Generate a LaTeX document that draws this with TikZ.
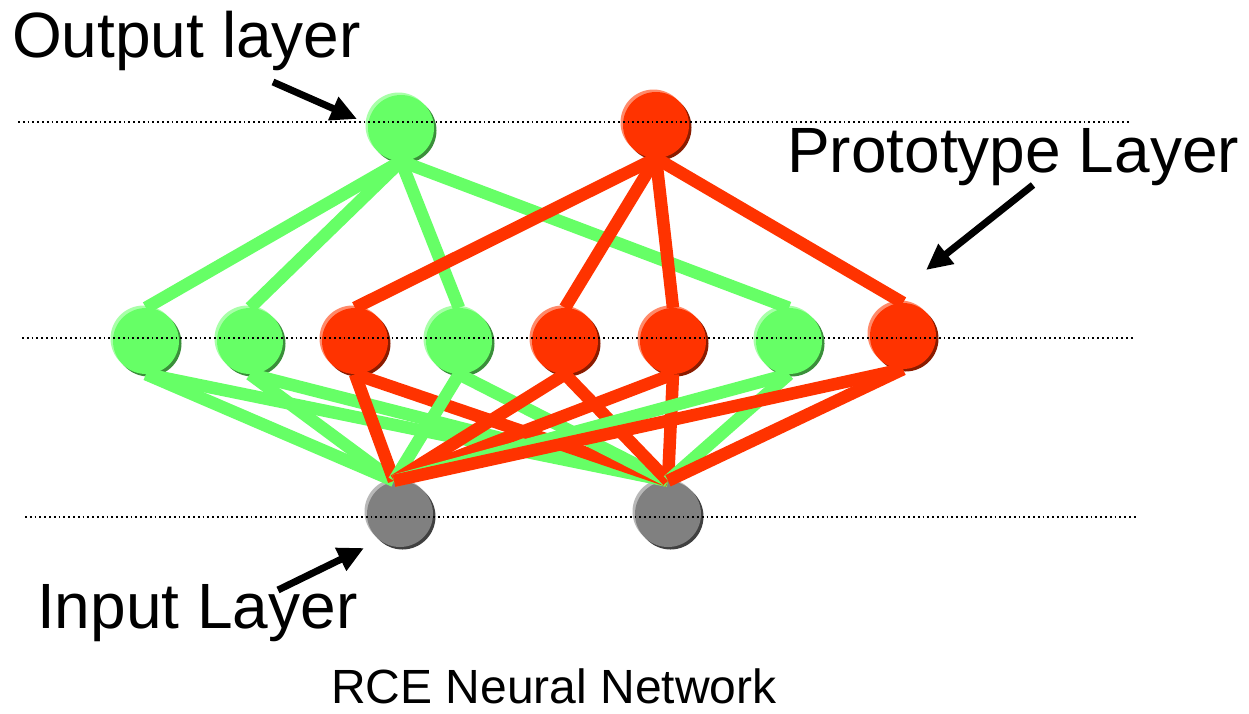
\documentclass[tikz,border=0pt]{standalone}
\usepackage{fontspec}
\setmainfont{Liberation Sans}
\usetikzlibrary{arrows.meta}
\definecolor{ngreen}{HTML}{66FF66}
\definecolor{ngreenL}{HTML}{A8FFA8}
\definecolor{ngreenD}{HTML}{3A8F3A}
\definecolor{nred}{HTML}{FF3300}
\definecolor{nredL}{HTML}{FF8A6A}
\definecolor{nredD}{HTML}{8A1C00}
\definecolor{ngray}{HTML}{808080}
\definecolor{ngrayL}{HTML}{B8B8B8}
\definecolor{ngrayD}{HTML}{404040}
\tikzset{
  neuron/.style n args={3}{circle, inner sep=0pt, minimum size=66pt, fill=#1,
    preaction={fill=#3, transform canvas={shift={(2.5pt,-2.5pt)}}},
    preaction={fill=#2, transform canvas={shift={(-2.5pt,2.5pt)}}}},
  gnode/.style={neuron={ngreen}{ngreenL}{ngreenD}},
  rnode/.style={neuron={nred}{nredL}{nredD}},
  inode/.style={neuron={ngray}{ngrayL}{ngrayD}},
  gedge/.style={draw=ngreen, line width=12.5pt},
  redge/.style={draw=nred, line width=12.5pt},
  layerline/.style={line width=1.8pt, dash pattern=on 1.8pt off 3pt},
  bigtext/.style={font=\fontsize{64}{70}\selectfont, inner sep=0pt, anchor=base west},
  pointer/.style={line width=7pt, -{Triangle[length=26pt,width=24pt]}}
}
\begin{document}
\begin{tikzpicture}[x=1pt,y=-1pt]
\useasboundingbox (0,0) rectangle (1249,713);
% nodes
\node[gnode] (G) at (401,128) {};
\node[rnode] (R) at (656,125) {};
\node[gnode] (P1) at (146,341) {};
\node[gnode] (P2) at (250,341) {};
\node[rnode] (P3) at (355,341) {};
\node[gnode] (P4) at (459,341) {};
\node[rnode] (P5) at (565,341) {};
\node[rnode] (P6) at (673,341) {};
\node[gnode] (P7) at (789,341) {};
\node[rnode] (P8) at (903,336) {};
\node[inode] (I1) at (400,514) {};
\node[inode] (I2) at (668,514) {};
% output to prototype
\foreach \p in {P1,P2,P4,P7} \draw[gedge] (G.south) -- (\p.north);
\foreach \p in {P3,P5,P6,P8} \draw[redge] (R.south) -- (\p.north);
% prototype to input
\draw[gedge] (P1.south) -- ([xshift=-6pt]I1.north);
\draw[gedge] (P1.south) -- (I2.north);
\draw[gedge] (P2.south) -- ([xshift=-6pt]I1.north);
\draw[gedge] (P2.south) -- (I2.north);
\draw[redge] (P3.south) -- ([xshift=-6pt]I1.north);
\draw[redge] (P3.south) -- (I2.north);
\draw[gedge] (P4.south) -- ([xshift=-6pt]I1.north);
\draw[gedge] (P4.south) -- (I2.north);
\draw[redge] (P5.south) -- ([xshift=-6pt]I1.north);
\draw[redge] (P5.south) -- (I2.north);
\draw[redge] (P6.south) -- ([xshift=-6pt]I1.north);
\draw[redge] (P6.south) -- (I2.north);
\draw[gedge] (P7.south) -- ([xshift=-6pt]I1.north);
\draw[gedge] (P7.south) -- (I2.north);
\draw[redge] (P8.south) -- ([xshift=-6pt]I1.north);
\draw[redge] (P8.south) -- (I2.north);
% layer lines
\coordinate (l1a) at (18,122); \coordinate (l1b) at (1130,122);
\coordinate (l2a) at (22,338); \coordinate (l2b) at (1135,338);
\coordinate (l3a) at (25,517); \coordinate (l3b) at (1138,517);
\draw[layerline] (l1a) -- (l1b);
\draw[layerline] (l2a) -- (l2b);
\draw[layerline] (l3a) -- (l3b);
% labels
\node[bigtext] (tout) at (12,57) {Output layer};
\node[bigtext] (tproto) at (787,172) {Prototype Layer};
\node[bigtext] (tin) at (37,628) {Input Layer};
\node[font=\fontsize{48}{54}\selectfont, inner sep=0pt, anchor=base west] (title) at (331,703) {RCE Neural Network};
% pointers
\coordinate (a1s) at (273,82); \coordinate (a1e) at (357,119);
\coordinate (a2s) at (1033,185); \coordinate (a2e) at (926,270);
\coordinate (a3s) at (278,590); \coordinate (a3e) at (364,548);
\draw[pointer] (a1s) -- (a1e);
\draw[pointer] (a2s) -- (a2e);
\draw[pointer] (a3s) -- (a3e);
\end{tikzpicture}
\end{document}
